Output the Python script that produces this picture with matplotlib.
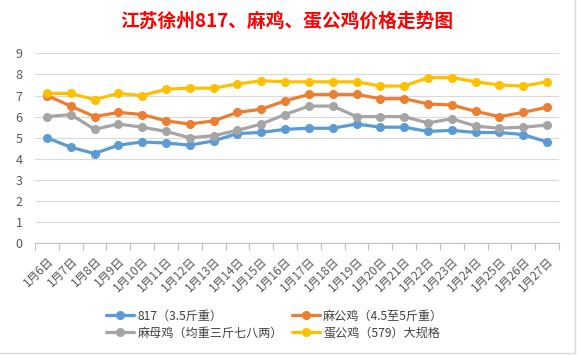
import matplotlib
matplotlib.use("Agg")
import matplotlib.pyplot as plt
from matplotlib.patches import Rectangle

plt.rcParams['font.family'] = ['Noto Sans CJK SC', 'DejaVu Sans']

dates = ["1月6日", "1月7日", "1月8日", "1月9日", "1月10日", "1月11日", "1月12日",
         "1月13日", "1月14日", "1月15日", "1月16日", "1月17日", "1月18日", "1月19日",
         "1月20日", "1月21日", "1月22日", "1月23日", "1月24日", "1月25日", "1月26日",
         "1月27日"]

s817 = [5.0, 4.55, 4.25, 4.65, 4.8, 4.75, 4.65, 4.85, 5.2, 5.25, 5.4,
        5.45, 5.45, 5.65, 5.5, 5.5, 5.3, 5.35, 5.25, 5.25, 5.15, 4.8]
ma_gong = [7.0, 6.5, 6.0, 6.2, 6.1, 5.8, 5.65, 5.8, 6.2, 6.35, 6.75,
           7.05, 7.05, 7.05, 6.85, 6.85, 6.6, 6.55, 6.25, 6.0, 6.2, 6.45]
ma_mu = [6.0, 6.1, 5.4, 5.65, 5.5, 5.3, 5.0, 5.1, 5.35, 5.65, 6.1,
         6.5, 6.5, 6.0, 6.0, 6.0, 5.7, 5.9, 5.55, 5.45, 5.5, 5.6]
dan_gong = [7.1, 7.1, 6.8, 7.1, 7.0, 7.3, 7.35, 7.35, 7.55, 7.7, 7.65,
            7.65, 7.65, 7.65, 7.45, 7.45, 7.85, 7.85, 7.65, 7.5, 7.45, 7.65]

series = [
    ("817（3.5斤重）", s817, "#5B9BD5"),
    ("麻公鸡（4.5至5斤重）", ma_gong, "#ED7D31"),
    ("麻母鸡（均重三斤七八两）", ma_mu, "#A5A5A5"),
    ("蛋公鸡（579）大规格", dan_gong, "#FFC000"),
]

fig = plt.figure(figsize=(5.77, 3.56), dpi=100)
ax = fig.add_axes([35 / 577, 1 - 243.3 / 356, 524 / 577, 190 / 356])

x = list(range(len(dates)))
handles = []
for i, (name, vals, col) in enumerate(series):
    h, = ax.plot(x, vals, color=col, lw=2.3, marker="o", markersize=5.5,
                 label=name, zorder=3 + i, solid_capstyle="round")
    handles.append(h)

ax.set_xlim(-0.5, len(dates) - 0.5)
ax.set_ylim(0, 9)
ax.set_yticks(range(0, 10))
ax.grid(axis="y", color="#D9D9D9", lw=0.8)
ax.set_axisbelow(True)

for s in ["top", "right", "left"]:
    ax.spines[s].set_visible(False)
ax.spines["bottom"].set_color("#BFBFBF")
ax.spines["bottom"].set_linewidth(0.8)

ax.set_xticks(x)
ax.set_xticklabels(dates, rotation=45, ha="right", rotation_mode="anchor",
                   fontsize=8.5, color="#595959")
ax.set_xticks([i - 0.5 for i in range(len(dates) + 1)], minor=True)
ax.tick_params(axis="x", which="major", length=0, pad=8)
ax.tick_params(axis="x", which="minor", length=5, color="#BFBFBF", width=0.8)
ax.tick_params(axis="y", length=0, labelsize=9, labelcolor="#595959", pad=9)

fig.text(0.497, 0.94, "江苏徐州817、麻鸡、蛋公鸡价格走势图", color="red",
         fontsize=13.5, fontweight="bold", ha="center", va="center")

# legend fills column-wise, so reorder to get rows like the original
order = [0, 2, 1, 3]
fig.legend(handles=[handles[k] for k in order], loc="center",
           bbox_to_anchor=(0.4764, 0.0885), ncol=2,
           frameon=False, fontsize=8.7, handlelength=2.3, handletextpad=0.25,
           columnspacing=0.8, labelspacing=0.35, labelcolor="#404040",
           borderpad=0.2)

fig.patches.append(Rectangle((-0.01, 0.009), 0.9965 + 0.01, 1.0, transform=fig.transFigure,
                             fill=False, edgecolor="#D9D9D9", lw=1.0))

fig.savefig("out.png", dpi=100)
